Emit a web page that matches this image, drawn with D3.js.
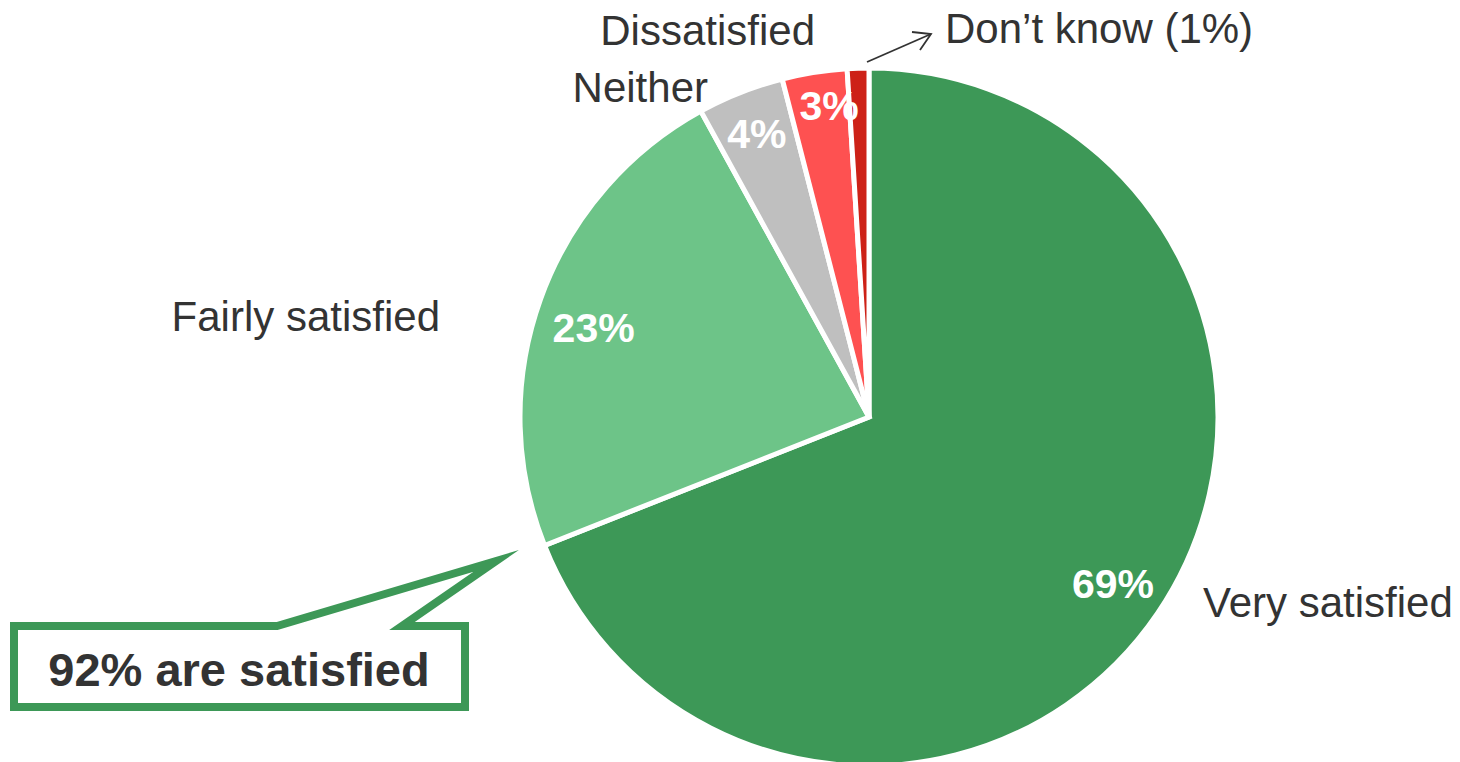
<!DOCTYPE html>
<html>
<head>
<meta charset="utf-8">
<script src="https://cdn.jsdelivr.net/npm/d3@7"></script>
<style>
  html, body { margin: 0; padding: 0; background: #fff; }
  svg { display: block; font-family: "Liberation Sans", Arial, sans-serif; }
</style>
</head>
<body>
<svg id="chart" width="1460" height="762"></svg>
<script>
const categories = ["Very satisfied", "Fairly satisfied", "Neither", "Dissatisfied", "Don\u2019t know"];
const values = [69, 23, 4, 3, 1];
const valueLabels = ["69%", "23%", "4%", "3%", ""];
const outerLabels = ["Very satisfied", "Fairly satisfied", "Neither", "Dissatisfied", "Don\u2019t know (1%)"];
const colors = ["#3d9857", "#6dc488", "#bfbfbf", "#fe5151", "#cd2117"];
const calloutText = "92% are satisfied";

const svg = d3.select("#chart");
const cx = 869, cy = 417, R = 349;

const data = categories.map((c, i) => ({ cat: c, value: values[i], label: valueLabels[i], outer: outerLabels[i], color: colors[i] }));
const pie = d3.pie().sort(null).value(d => d.value);
const arcs = pie(data);
const arc = d3.arc().innerRadius(0).outerRadius(R);

const g = svg.append("g").attr("transform", `translate(${cx},${cy})`);
g.selectAll("path.slice").data(arcs).enter().append("path")
  .attr("class", "slice")
  .attr("d", arc)
  .attr("fill", d => d.data.color)
  .attr("stroke", "#fff")
  .attr("stroke-width", 5)
  .attr("stroke-linejoin", "miter");

// value labels inside slices
const labelRadiusFactor = [0.845, 0.83, 0.873, 0.9, 0.85];
const labelAngleShift = [0, -0.03, 0, 0.03, 0];
function labelAngle(d, i) { return (d.startAngle + d.endAngle) / 2 + labelAngleShift[i]; }
g.selectAll("text.val").data(arcs).enter().append("text")
  .attr("class", "val")
  .attr("x", (d, i) => Math.sin(labelAngle(d, i)) * R * labelRadiusFactor[i])
  .attr("y", (d, i) => -Math.cos(labelAngle(d, i)) * R * labelRadiusFactor[i])
  .attr("dy", "0.36em")
  .attr("text-anchor", "middle")
  .attr("fill", "#fff")
  .attr("font-weight", "bold")
  .attr("font-size", 41)
  .text(d => d.data.label);

// outer category labels
const outerPos = [
  { x: 1203, y: 617, anchor: "start" },
  { x: 440, y: 331, anchor: "end" },
  { x: 708, y: 102, anchor: "end" },
  { x: 815, y: 45, anchor: "end" },
  { x: 945, y: 43, anchor: "start" }
];
svg.selectAll("text.cat").data(arcs).enter().append("text")
  .attr("class", "cat")
  .attr("x", (d, i) => outerPos[i].x)
  .attr("y", (d, i) => outerPos[i].y)
  .attr("text-anchor", (d, i) => outerPos[i].anchor)
  .attr("fill", "#333")
  .attr("font-size", 42)
  .text(d => d.data.outer);

// arrow for Don't know
svg.append("line").attr("x1", 867).attr("y1", 62).attr("x2", 931).attr("y2", 34)
  .attr("stroke", "#333").attr("stroke-width", 1.8);
svg.append("path").attr("d", "M912,32 L931,34 L920,50")
  .attr("fill", "none").attr("stroke", "#333").attr("stroke-width", 1.8);

// callout
const callout = [[14,626],[277,626],[496,561],[402,626],[465,626],[465,707],[14,707]];
svg.append("path")
  .attr("d", d3.line()(callout) + "Z")
  .attr("fill", "#fff")
  .attr("stroke", colors[0])
  .attr("stroke-width", 8)
  .attr("stroke-linejoin", "miter")
  .attr("stroke-miterlimit", 20);
svg.append("text")
  .attr("x", 239).attr("y", 686)
  .attr("text-anchor", "middle")
  .attr("fill", "#333")
  .attr("font-weight", "bold")
  .attr("font-size", 47)
  .text(calloutText);
</script>
</body>
</html>
